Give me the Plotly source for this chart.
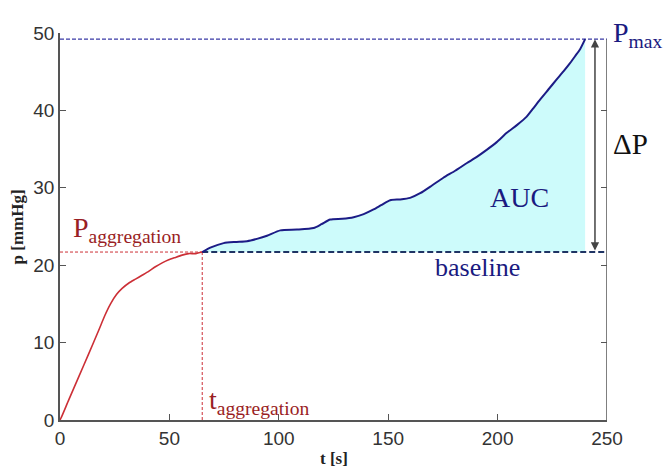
import plotly.graph_objects as go

# ---- data ----
t_rise = [0, 0.7, 4, 8.6, 13.2, 17.7, 20.5, 23.1, 25.8, 28.4, 31.5, 34.5, 37.5, 40.5,
          43.6, 46.7, 49.7, 52.7, 55.8, 58.8, 62, 65]
p_rise = [0, 0.4, 2.6, 5.6, 8.6, 11.6, 13.5, 15.0, 16.2, 17.0, 17.7, 18.2, 18.7, 19.2,
          19.8, 20.3, 20.7, 21.0, 21.3, 21.5, 21.5, 21.7]

t_plateau = [65, 69, 74.8, 80, 85.5, 90, 94.6, 100.7, 108.3, 115.9, 119.5, 123.5, 129, 134.2,
             138.8, 143.3, 147, 150.9, 155.5, 160, 164.6, 170, 175.2, 180.6, 186, 190.5, 195,
             199.6, 204.2, 208.8, 213.3, 216.4, 219.4, 223.2, 227, 230, 233.1, 235.4, 237.7, 240]
p_plateau = [21.7, 22.3, 22.85, 23.0, 23.1, 23.4, 23.8, 24.5, 24.6, 24.8, 25.3, 25.9, 26.0, 26.2,
             26.6, 27.2, 27.8, 28.4, 28.5, 28.7, 29.3, 30.3, 31.3, 32.2, 33.2, 34.0, 34.9,
             35.9, 37.1, 38.1, 39.2, 40.3, 41.4, 42.7, 44.0, 45.0, 46.1, 47.0, 47.9, 49.2]

t_aggregation = 65
p_aggregation = 21.7
p_max = 49.2
t_end = 240
t_arrow = 244.5

x_range = [0, 250]
y_range = [0, 50]
x_ticks = [0, 50, 100, 150, 200, 250]
y_ticks = [0, 10, 20, 30, 40, 50]

SERIF = "Liberation Serif, Times New Roman, serif"
SANS = "Liberation Sans, Arial, sans-serif"
DARK_RED = "#9a1e24"
RED = "#cc2f36"
NAVY = "#1c1c86"
TXT_BLUE = "#1a1a80"

fig = go.Figure()

# baseline (invisible) used as lower edge of AUC fill
fig.add_trace(go.Scatter(x=[t_aggregation, t_end], y=[p_aggregation, p_aggregation],
                         mode="lines", line=dict(width=0, color="rgba(0,0,0,0)"),
                         hoverinfo="skip", showlegend=False))
# AUC fill under the blue curve
fig.add_trace(go.Scatter(x=t_plateau, y=p_plateau, mode="lines",
                         line=dict(width=0, color="rgba(0,0,0,0)", shape="spline", smoothing=0.6),
                         fill="tonexty", fillcolor="#cdfbfb",
                         hoverinfo="skip", showlegend=False))

# dashed guide lines
fig.add_trace(go.Scatter(x=[x_range[0], x_range[1]], y=[p_max, p_max], mode="lines",
                         line=dict(color="#3a3aa6", width=1.2, dash="4px,2px"), showlegend=False))
fig.add_trace(go.Scatter(x=[x_range[0], t_aggregation], y=[p_aggregation, p_aggregation], mode="lines",
                         line=dict(color=RED, width=1, dash="3px,2px"), showlegend=False))
fig.add_trace(go.Scatter(x=[t_aggregation, t_aggregation], y=[y_range[0], p_aggregation], mode="lines",
                         line=dict(color=RED, width=1, dash="3px,2px"), showlegend=False))
fig.add_trace(go.Scatter(x=[t_aggregation, x_range[1]], y=[p_aggregation, p_aggregation], mode="lines",
                         line=dict(color="#1f3464", width=2, dash="6px,3px"), showlegend=False))

# curves
fig.add_trace(go.Scatter(x=t_rise, y=p_rise, mode="lines",
                         line=dict(color=RED, width=1.6, shape="spline", smoothing=0.6),
                         showlegend=False))
fig.add_trace(go.Scatter(x=t_plateau, y=p_plateau, mode="lines",
                         line=dict(color=NAVY, width=2, shape="spline", smoothing=0.6),
                         showlegend=False))

# right frame line (up to Pmax)
fig.add_trace(go.Scatter(x=[x_range[1], x_range[1]], y=[y_range[0], p_max], mode="lines",
                         line=dict(color="#555555", width=1.5), showlegend=False,
                         cliponaxis=False))

# invisible trace on right axis so it renders ticks
fig.add_trace(go.Scatter(x=[x_range[1]], y=[y_range[0]], yaxis="y2", mode="markers",
                         marker=dict(opacity=0), showlegend=False, hoverinfo="skip"))

# delta P arrow
fig.add_annotation(x=t_arrow, y=p_max, ax=t_arrow, ay=p_aggregation,
                   xref="x", yref="y", axref="x", ayref="y",
                   showarrow=True, arrowhead=2, arrowside="end+start",
                   arrowsize=1.1, arrowwidth=1.5, arrowcolor="#444444", text="")

ann = [
    dict(x=5.2, xref="x", y=p_aggregation + 0.35, text="P<sub>aggregation</sub>",
         xanchor="left", yanchor="bottom",
         font=dict(family=SERIF, size=28, color=DARK_RED)),
    dict(x=t_aggregation + 2.2, xref="x", y=0, yshift=-1, text="t<sub>aggregation</sub>",
         xanchor="left", yanchor="bottom",
         font=dict(family=SERIF, size=28, color=DARK_RED)),
    dict(x=1.007, xref="paper", y=p_max + 0.6, text="P<sub>max</sub>", xanchor="left", yanchor="middle",
         font=dict(family=SERIF, size=28, color=TXT_BLUE)),
    dict(x=1.008, xref="paper", y=35.6, text="ΔP", xanchor="left", yanchor="middle",
         font=dict(family=SERIF, size=29, color="#111111")),
    dict(x=209.8, xref="x", y=28.8, text="AUC", xanchor="center", yanchor="middle",
         font=dict(family=SERIF, size=28, color=TXT_BLUE)),
    dict(x=191, xref="x", y=19.7, text="baseline", xanchor="center", yanchor="middle",
         font=dict(family=SERIF, size=26, color=TXT_BLUE)),
]
for a in ann:
    fig.add_annotation(yref="y", showarrow=False, **a)

# axis titles
fig.add_annotation(xref="paper", yref="paper", x=0.5, y=-0.1, yanchor="middle", xanchor="center",
                   text="<b>t [s]</b>", showarrow=False, font=dict(family=SERIF, size=17, color="#222222"))
fig.add_annotation(xref="paper", yref="paper", x=-0.077, y=0.5, yanchor="middle", xanchor="center",
                   textangle=-90, text="<b>p [mmHg]</b>", showarrow=False,
                   font=dict(family=SERIF, size=17, color="#222222"))

fig.update_layout(
    width=666, height=472,
    margin=dict(l=60, r=59, t=33, b=52),
    paper_bgcolor="white", plot_bgcolor="white",
    xaxis=dict(range=x_range, tickvals=x_ticks, ticks="inside", ticklen=6, tickcolor="#555555",
               showline=True, linecolor="#555555", linewidth=1.5, showgrid=False, zeroline=False,
               tickfont=dict(family=SANS, size=19, color="#333333")),
    yaxis=dict(range=y_range, tickvals=y_ticks, ticks="inside", ticklen=6, tickcolor="#555555",
               showline=True, linecolor="#555555", linewidth=1.5, showgrid=False, zeroline=False,
               tickfont=dict(family=SANS, size=19, color="#333333")),
    yaxis2=dict(range=y_range, tickvals=[10, 20, 30, 40], overlaying="y", side="right",
                ticks="inside", ticklen=6, tickcolor="#555555", showticklabels=False,
                showline=False, showgrid=False, zeroline=False),
)

fig.write_html("out.html")
